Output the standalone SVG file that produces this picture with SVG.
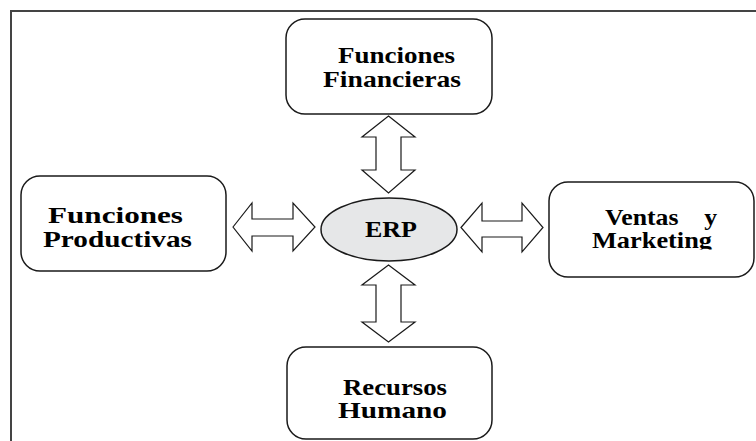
<svg xmlns="http://www.w3.org/2000/svg" width="756" height="441" viewBox="0 0 756 441">
<style>
.box{fill:#fff;stroke:#1a1a1a;stroke-width:1.5}
.arr{fill:#fff;stroke:#1a1a1a;stroke-width:1.2;stroke-linejoin:miter}
.t{font-family:"Liberation Serif","Times New Roman",serif;font-weight:bold;font-size:23px;fill:#000}
.frame{stroke:#444;stroke-width:2;fill:none}
</style>
<defs>
<clipPath id="clipMk"><rect x="540" y="170" width="216" height="79.5"/></clipPath>
</defs>
<rect width="756" height="441" fill="#fff"/>
<path class="frame" d="M11,441 V11 H756"/>
<g id="connectors">
<polygon class="arr" points="388.5,116 415,137 401,137 401,170 415,170 388.5,193 362,170 376,170 376,137 362,137"/>
<polygon class="arr" points="388.5,265 415,285 401,285 401,322 415,322 388.5,342 362,322 376,322 376,285 362,285"/>
<polygon class="arr" points="233,227 252,203 252,219 293,219 293,203 315,227 293,251 293,236 252,236 252,251"/>
<polygon class="arr" points="461,227.5 482,203 482,221 522,221 522,203 543,227.5 522,252 522,237 482,237 482,252"/>
</g>
<g id="erp">
<ellipse cx="389" cy="229.5" rx="68" ry="31.5" fill="#e6e7e8" stroke="#1a1a1a" stroke-width="1.5"/>
<text class="t" x="365" y="237" font-size="25" textLength="52" lengthAdjust="spacingAndGlyphs">ERP</text>
</g>
<g id="financieras">
<rect class="box" x="286" y="19" width="206" height="95" rx="19"/>
<text class="t" x="338" y="63" textLength="117" lengthAdjust="spacingAndGlyphs">Funciones</text>
<text class="t" x="323" y="87" textLength="138" lengthAdjust="spacingAndGlyphs">Financieras</text>
</g>
<g id="productivas">
<rect class="box" x="21" y="176" width="205" height="95" rx="19"/>
<text class="t" x="48" y="223" textLength="135" lengthAdjust="spacingAndGlyphs">Funciones</text>
<text class="t" x="43" y="247" textLength="149" lengthAdjust="spacingAndGlyphs">Productivas</text>
</g>
<g id="ventas">
<rect class="box" x="549" y="182" width="205" height="95" rx="19"/>
<text class="t" x="605" y="225" textLength="112" lengthAdjust="spacingAndGlyphs" xml:space="preserve">Ventas    y</text>
<text class="t" x="592" y="248" textLength="120" lengthAdjust="spacingAndGlyphs" clip-path="url(#clipMk)">Marketing</text>
</g>
<g id="recursos">
<rect class="box" x="287" y="347" width="205" height="92" rx="19"/>
<text class="t" x="343" y="395" textLength="104" lengthAdjust="spacingAndGlyphs">Recursos</text>
<text class="t" x="338" y="418" textLength="109" lengthAdjust="spacingAndGlyphs">Humano</text>
</g>
</svg>
